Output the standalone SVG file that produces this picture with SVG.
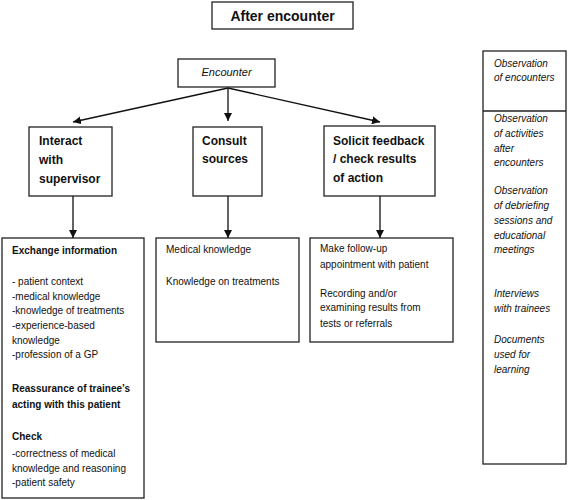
<svg xmlns="http://www.w3.org/2000/svg" width="568" height="500" viewBox="0 0 568 500">
<defs>
<marker id="ah" viewBox="0 0 10 10" refX="10" refY="5" markerWidth="8" markerHeight="8" markerUnits="userSpaceOnUse" orient="auto">
<path d="M0,0 L10,5 L0,10 z" fill="#111"/>
</marker>
<style>
rect{fill:#fff;stroke:#222;stroke-width:1.3}
text{font-family:"Liberation Sans",Arial,sans-serif;fill:#111}
.t{font-size:14px;font-weight:bold}
.h{font-size:12px;font-weight:bold}
.b{font-size:10px}
.bb{font-size:10px;font-weight:bold}
.i{font-size:10px;font-style:italic}
.c line{stroke:#111;stroke-width:1.3;marker-end:url(#ah)}
</style>
</defs>
<rect width="568" height="500" style="fill:#fff;stroke:none"/>
<g id="title"><rect x="212" y="2" width="141" height="27"/><text class="t" x="282.5" y="21" text-anchor="middle">After encounter</text></g>
<g id="encounter"><rect x="178" y="59" width="97" height="28"/><text class="i" x="226.5" y="76" text-anchor="middle" style="font-size:11px">Encounter</text></g>
<g id="interact"><rect x="29" y="127" width="83" height="69"/><text class="h"><tspan x="39" y="145">Interact</tspan><tspan x="39" y="164">with</tspan><tspan x="39" y="183">supervisor</tspan></text></g>
<g id="consult"><rect x="193" y="127" width="69" height="69"/><text class="h"><tspan x="202" y="145">Consult</tspan><tspan x="202" y="163">sources</tspan></text></g>
<g id="solicit"><rect x="324" y="126" width="111" height="70"/><text class="h"><tspan x="333" y="145">Solicit feedback</tspan><tspan x="333" y="163">/ check results</tspan><tspan x="333" y="182">of action</tspan></text></g>
<g id="exchange"><rect x="2" y="238" width="142" height="260"/>
<text class="bb" x="12" y="254">Exchange information</text>
<text class="b"><tspan x="12" y="285">- patient context</tspan><tspan x="12" y="300">-medical knowledge</tspan><tspan x="12" y="314">-knowledge of treatments</tspan><tspan x="12" y="329">-experience-based</tspan><tspan x="12" y="344">knowledge</tspan><tspan x="12" y="358">-profession of a GP</tspan></text>
<text class="bb"><tspan x="12" y="392">Reassurance of trainee’s</tspan><tspan x="12" y="408">acting with this patient</tspan></text>
<text class="bb" x="12" y="440">Check</text>
<text class="b"><tspan x="12" y="457">-correctness of medical</tspan><tspan x="12" y="472">knowledge and reasoning</tspan><tspan x="12" y="486">-patient safety</tspan></text>
</g>
<g id="sources"><rect x="156" y="238" width="143" height="104"/><text class="b"><tspan x="166" y="253">Medical knowledge</tspan><tspan x="166" y="285">Knowledge on treatments</tspan></text></g>
<g id="followup"><rect x="310" y="238" width="143" height="104"/><text class="b"><tspan x="320" y="252">Make follow-up</tspan><tspan x="320" y="268">appointment with patient</tspan><tspan x="320" y="297">Recording and/or</tspan><tspan x="320" y="311">examining results from</tspan><tspan x="320" y="327">tests or referrals</tspan></text></g>
<g id="methods"><rect x="483" y="51" width="83" height="413"/><line x1="483" y1="111" x2="566" y2="111" stroke="#222" stroke-width="1.3"/>
<text class="i"><tspan x="494" y="67">Observation</tspan><tspan x="494" y="81">of encounters</tspan>
<tspan x="494" y="122">Observation</tspan><tspan x="494" y="137">of activities</tspan><tspan x="494" y="152">after</tspan><tspan x="494" y="166">encounters</tspan>
<tspan x="494" y="194">Observation</tspan><tspan x="494" y="209">of debriefing</tspan><tspan x="494" y="224">sessions and</tspan><tspan x="494" y="239">educational</tspan><tspan x="494" y="253">meetings</tspan>
<tspan x="494" y="297">Interviews</tspan><tspan x="494" y="312">with trainees</tspan>
<tspan x="494" y="343">Documents</tspan><tspan x="494" y="358">used for</tspan><tspan x="494" y="373">learning</tspan></text></g>
<g id="connectors" class="c">
<line x1="228" y1="88" x2="73" y2="122"/>
<line x1="228" y1="88" x2="228" y2="121"/>
<line x1="228" y1="88" x2="380" y2="122"/>
<line x1="73" y1="196" x2="73" y2="238"/>
<line x1="228" y1="196" x2="228" y2="238"/>
<line x1="380" y1="196" x2="380" y2="238"/>
</g>
</svg>
